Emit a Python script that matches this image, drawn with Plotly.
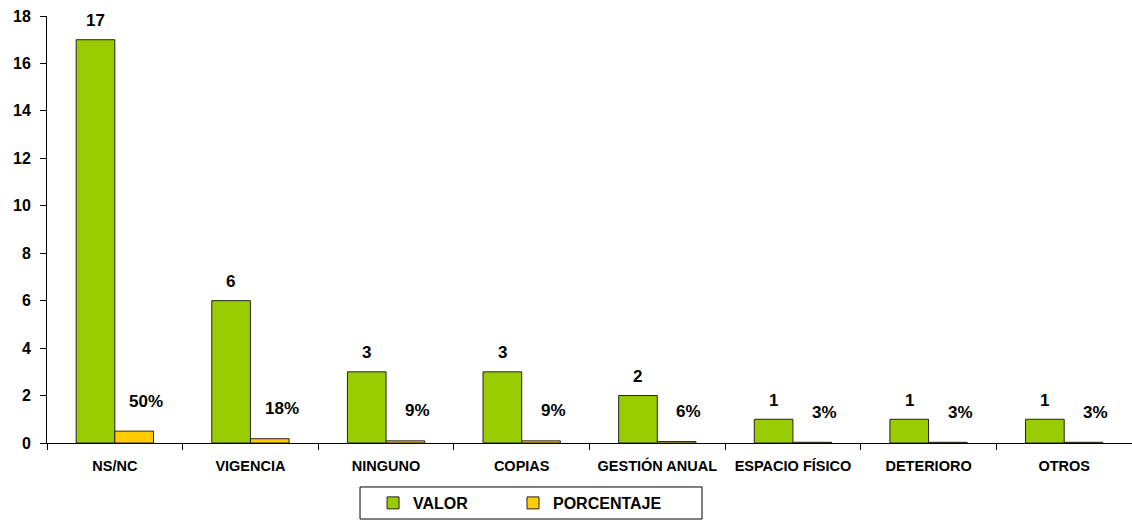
import plotly.graph_objects as go

categories = ["NS/NC", "VIGENCIA", "NINGUNO", "COPIAS", "GESTIÓN ANUAL",
              "ESPACIO FÍSICO", "DETERIORO", "OTROS"]
valor = [17, 6, 3, 3, 2, 1, 1, 1]
porcentaje = [0.50, 0.18, 0.09, 0.09, 0.06, 0.03, 0.03, 0.03]
y_ticks = [0, 2, 4, 6, 8, 10, 12, 14, 16, 18]

FONT = "Arial, 'Liberation Sans', sans-serif"
GREEN = "#99CC00"
YELLOW = "#FFCC00"

fig = go.Figure()
fig.add_trace(go.Bar(name="VALOR", x=categories, y=valor, legend="legend",
                     marker=dict(color=GREEN, line=dict(color="#222222", width=1))))
fig.add_trace(go.Bar(name="PORCENTAJE", x=categories, y=porcentaje, legend="legend2",
                     marker=dict(color=YELLOW, line=dict(color="#222222", width=1))))

# value labels above each bar
half = 19.5
for c, v in zip(categories, valor):
    fig.add_annotation(x=c, y=v, xref="x", yref="y", text=str(v),
                       showarrow=False, xshift=-half, yshift=19,
                       font=dict(family=FONT, size=17, color="black", weight="bold"))
for c, p in zip(categories, porcentaje):
    fig.add_annotation(x=c, y=p, xref="x", yref="y", text=f"{round(p * 100)}%",
                       showarrow=False, xshift=half + 12, yshift=30,
                       font=dict(family=FONT, size=17, color="black", weight="bold"))

legend_font = dict(family=FONT, size=16, color="black", weight="bold")
fig.update_layout(
    width=1132, height=521,
    margin=dict(l=47, r=0, t=16, b=78, autoexpand=False),
    paper_bgcolor="white", plot_bgcolor="white",
    barmode="group", bargap=0.43, bargroupgap=0,
    font=dict(family=FONT, color="black"),
    showlegend=True,
    legend=dict(x=0.3005, y=-0.1405, xanchor="left", yanchor="middle",
                font=legend_font, itemwidth=30, bgcolor="rgba(0,0,0,0)"),
    legend2=dict(x=0.4295, y=-0.1405, xanchor="left", yanchor="middle",
                 font=legend_font, itemwidth=30, bgcolor="rgba(0,0,0,0)"),
    shapes=[dict(type="rect", xref="paper", yref="paper",
                 x0=0.2885, x1=0.6037, y0=-0.178, y1=-0.103,
                 line=dict(color="black", width=1), fillcolor="rgba(0,0,0,0)")],
)
fig.update_xaxes(showline=True, linecolor="black", linewidth=1,
                 ticks="outside", tickson="boundaries", ticklen=6, tickcolor="black",
                 tickfont=dict(family=FONT, size=14.5, color="black", weight="bold"),
                 ticklabelstandoff=10, showgrid=False)
fig.update_yaxes(range=[0, 18], tickvals=y_ticks, showline=True, linecolor="black",
                 linewidth=1, ticks="outside", ticklen=6, tickcolor="black",
                 tickfont=dict(family=FONT, size=16, color="black", weight="bold"),
                 ticklabelstandoff=6, showgrid=False, zeroline=False)

fig.write_html("out.html")
